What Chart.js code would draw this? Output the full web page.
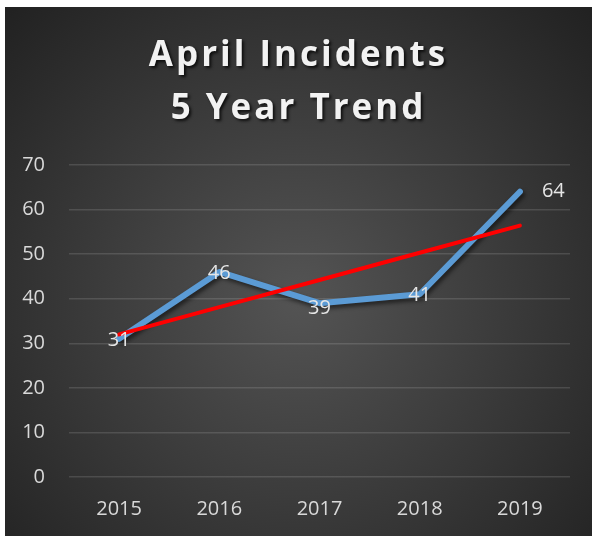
<!DOCTYPE html>
<html>
<head>
<meta charset="utf-8">
<script src="https://cdn.jsdelivr.net/npm/chart.js@4/dist/chart.umd.min.js"></script>
<style>
  body { margin: 0; background: #ffffff; }
  #grafico { position: absolute; left: 5px; top: 7px; }
</style>
</head>
<body>
<canvas id="grafico" width="587" height="529"></canvas>
<script>
// dados do grafico
const anos = ["2015", "2016", "2017", "2018", "2019"];
const incidentes = [31, 46, 39, 41, 64];
const tendencia = [32, 38.1, 44.2, 50.3, 56.4];
const titulo = ["April Incidents", "5 Year Trend"];

const fundoPlugin = {
  id: "fundo",
  beforeDraw(chart) {
    const ctx = chart.ctx;
    const w = chart.width, h = chart.height;
    const g = ctx.createRadialGradient(w * 0.5, h * 0.55, 0, w * 0.5, h * 0.55, w * 0.72);
    g.addColorStop(0, "#545454");
    g.addColorStop(1, "#202020");
    ctx.save();
    ctx.fillStyle = g;
    ctx.fillRect(0, 0, w, h);
    ctx.restore();

    // sombra e espacamento no titulo
    const tb = chart.titleBlock;
    if (tb && !tb._comSombra) {
      const original = tb.draw;
      tb.draw = function () {
        const c = this.ctx;
        c.save();
        // o padding da direita desloca o titulo, volta para o centro do canvas
        c.translate(11, 0);
        c.letterSpacing = "3px";
        c.shadowColor = "rgba(0,0,0,0.75)";
        c.shadowOffsetX = 2;
        c.shadowOffsetY = 2;
        c.shadowBlur = 3;
        original.apply(this, arguments);
        c.restore();
      };
      tb._comSombra = true;
    }
  },
  beforeDatasetDraw(chart, args) {
    if (args.index === 0) {
      const ctx = chart.ctx;
      ctx.save();
      ctx.shadowColor = "rgba(0,0,0,0.55)";
      ctx.shadowOffsetX = 2;
      ctx.shadowOffsetY = 3;
      ctx.shadowBlur = 4;
    }
  },
  afterDatasetDraw(chart, args) {
    if (args.index === 0) chart.ctx.restore();
  },
};

const rotulosPlugin = {
  id: "rotulos",
  afterDatasetsDraw(chart) {
    const ctx = chart.ctx;
    const meta = chart.getDatasetMeta(0);
    ctx.save();
    ctx.font = "20px 'Open Sans'";
    ctx.fillStyle = "#e6e6e6";
    ctx.textBaseline = "middle";
    meta.data.forEach((p, i) => {
      const valor = chart.data.datasets[0].data[i];
      if (i === meta.data.length - 1) {
        ctx.textAlign = "left";
        ctx.fillText(valor, p.x + 22, p.y);
      } else {
        ctx.textAlign = "center";
        ctx.fillText(valor, p.x, p.y + (i === 2 ? 5 : 1));
      }
    });
    ctx.restore();
  },
};

const ctx = document.getElementById("grafico").getContext("2d");
new Chart(ctx, {
  type: "line",
  data: {
    labels: anos,
    datasets: [
      {
        label: "Incidents",
        data: incidentes,
        borderColor: "#5B9BD5",
        borderWidth: 6,
        borderCapStyle: "round",
        borderJoinStyle: "round",
        pointRadius: 0,
        tension: 0,
        order: 2,
      },
      {
        label: "Trend",
        data: tendencia,
        borderColor: "#FF0000",
        borderWidth: 4,
        borderCapStyle: "round",
        pointRadius: 0,
        tension: 0,
        order: 1,
      },
    ],
  },
  options: {
    responsive: false,
    animation: false,
    layout: { padding: { left: 0, right: 22, top: 0, bottom: 0 } },
    plugins: {
      legend: { display: false },
      tooltip: { enabled: false },
      title: {
        display: true,
        text: titulo,
        color: "#f2f2f2",
        font: { family: "'Open Sans'", size: 35, weight: "bold", lineHeight: 1.514 },
        padding: { top: 23, bottom: 29 },
      },
    },
    scales: {
      x: {
        offset: true,
        grid: { display: false, drawTicks: false },
        border: { display: false },
        ticks: { color: "#d9d9d9", font: { family: "'Open Sans'", size: 20 }, padding: 20 },
        afterFit(scale) { scale.height = 59; },
      },
      y: {
        min: 0,
        max: 70,
        ticks: { stepSize: 10, color: "#d9d9d9", font: { family: "'Open Sans'", size: 20 }, padding: 24 },
        grid: { color: "rgba(255,255,255,0.13)", lineWidth: 1.5, drawTicks: false },
        border: { display: false },
        afterFit(scale) { scale.width = 64; },
      },
    },
  },
  plugins: [fundoPlugin, rotulosPlugin],
});
</script>
</body>
</html>
